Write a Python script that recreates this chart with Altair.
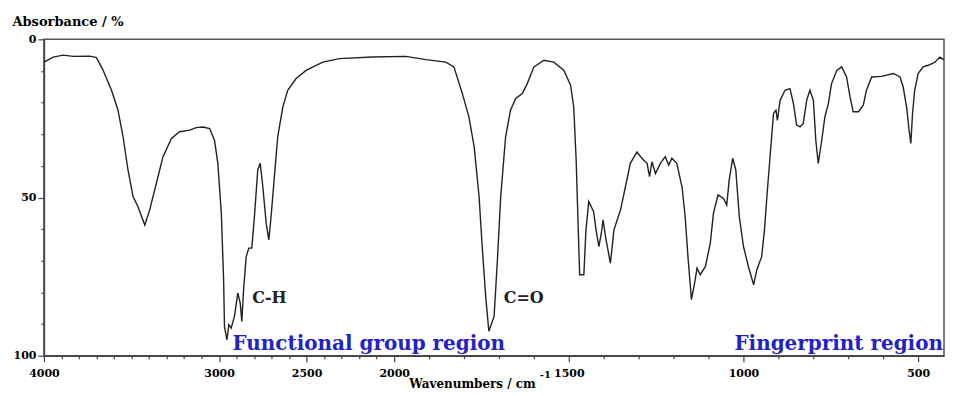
import altair as alt
import pandas as pd

# ---- spectrum ----
wavenumber = [4000, 3947, 3890, 3833, 3738, 3700, 3662, 3614, 3577, 3548, 3520, 3491, 3463, 3424,
              3396, 3358, 3320, 3272, 3225, 3168, 3130, 3092, 3054, 3026, 3007, 2987, 2974, 2969,
              2955, 2944, 2931, 2912, 2893, 2879, 2870, 2860, 2845, 2830, 2813, 2798, 2779, 2765,
              2750, 2731, 2716, 2703, 2684, 2665, 2636, 2608, 2560, 2503, 2408, 2313, 2124, 1967,
              1909, 1852, 1829, 1805, 1786, 1771, 1757, 1748, 1738, 1729, 1714, 1705, 1695, 1681,
              1667, 1652, 1633, 1619, 1600, 1571, 1543, 1514, 1495, 1486, 1479, 1473, 1469, 1457,
              1451, 1443, 1429, 1422, 1414, 1407, 1402, 1395, 1381, 1371, 1352, 1338, 1324, 1305,
              1291, 1276, 1269, 1262, 1252, 1238, 1224, 1214, 1205, 1191, 1176, 1167, 1159, 1149,
              1140, 1133, 1124, 1109, 1095, 1086, 1073, 1057, 1048, 1041, 1031, 1022, 1012, 1000,
              986, 971, 962, 948, 940, 933, 924, 914, 907, 903, 895, 881, 867, 857, 848, 838, 829,
              819, 810, 800, 793, 786, 776, 767, 757, 748, 733, 719, 705, 695, 686, 671, 657, 648,
              633, 605, 571, 552, 543, 533, 526, 521, 516, 510, 500, 486, 471, 452, 438, 424, 405]
absorbance = [7.2, 5.6, 5.0, 5.4, 5.3, 5.8, 9.8, 16.1, 22.4, 30.8, 41.3, 49.7, 52.9, 58.7,
              53.9, 45.5, 37.1, 31.3, 29.2, 28.7, 27.9, 27.7, 28.2, 31.9, 39.2, 55.0, 76.0, 90.8,
              95.0, 90.2, 91.3, 87.6, 80.2, 83.4, 89.2, 79.2, 68.7, 66.0, 66.0, 56.1, 41.3, 39.2,
              46.6, 58.1, 63.4, 56.1, 43.4, 30.8, 21.4, 16.1, 12.4, 9.8, 7.2, 6.1, 5.6, 5.4,
              6.4, 7.2, 8.7, 17.1, 24.5, 34.0, 49.7, 65.5, 81.3, 92.3, 87.6, 70.8, 49.7, 30.8,
              22.4, 18.7, 17.1, 14.0, 8.7, 6.6, 7.2, 9.8, 14.5, 21.4, 38.2, 60.3, 74.4, 74.4,
              60.3, 51.3, 54.5, 60.3, 65.5, 61.3, 57.1, 62.4, 70.8, 60.3, 53.9, 46.6, 39.2, 35.6,
              37.6, 39.2, 43.4, 38.7, 42.4, 39.2, 37.1, 39.7, 37.6, 39.2, 46.6, 56.1, 68.7, 82.3,
              77.1, 72.3, 74.4, 71.8, 64.4, 55.0, 49.2, 50.3, 52.4, 44.5, 37.6, 41.3, 56.1, 65.5,
              71.8, 77.6, 72.9, 68.7, 60.3, 49.7, 37.1, 23.4, 22.4, 25.6, 19.2, 16.1, 15.6, 20.3, 27.1, 27.7, 26.6,
              19.2, 16.1, 19.2, 31.9, 39.2, 31.9, 24.5, 20.3, 14.0, 9.8, 8.7, 11.9, 18.2, 22.9, 22.9, 20.8, 16.1,
              11.9, 11.7, 10.8, 11.9, 15.0, 21.4, 28.7, 32.9, 23.4, 16.1, 10.8, 8.7, 8.2, 7.2, 5.6, 6.6, 6.7]

# ---- annotations ----
peak_text = ["C-H", "C=O"]
peak_wn = [2712, 1629]
peak_abs = [83.3, 83.3]

region_text = ["Functional group region", "Fingerprint region"]
region_wn = [2923, 429]
region_abs = [98.1, 98.1]

# ---- axes ----
x_labeled = [4000, 3000, 2500, 2000, 1500, 1000, 500]
x_ticks = list(range(500, 4001, 100))
y_ticks = list(range(0, 101, 10))

FONT = "DejaVu Serif"
BLUE = "#2222c8"

spec_df = pd.DataFrame({"wn": wavenumber, "abs": absorbance})
peak_df = pd.DataFrame({"wn": peak_wn, "abs": peak_abs, "t": peak_text})
reg_left = pd.DataFrame({"wn": region_wn[:1], "abs": region_abs[:1], "t": region_text[:1]})
reg_right = pd.DataFrame({"wn": region_wn[1:], "abs": region_abs[1:], "t": region_text[1:]})

lab_arr = str(x_labeled)


def X():
    return alt.X(
        "wn:Q",
        scale=alt.Scale(domain=[4000, 2000, 426], range=[0, 351, 902], nice=False, zero=False),
        axis=alt.Axis(
            values=x_ticks,
            labelExpr=f"indexof({lab_arr}, datum.value) >= 0 ? datum.label : ''",
            tickSize={"condition": {"test": f"indexof({lab_arr}, datum.value) >= 0", "value": 6}, "value": 3},
            labelFont=FONT, labelFontWeight="bold", labelFontSize=11, labelColor="#000",
            labelPadding=6, labelOverlap=False, labelFlush=False,
            domainColor="#444", domainWidth=1.5, tickColor="#444", tickWidth=1.2, grid=False,
            title="Wavenumbers / cm", titleFont=FONT, titleFontSize=12, titleFontWeight="bold",
            titleColor="#000", titleX=429, titleY=32, titleAlign="center", titleBaseline="alphabetic",
            format="d",
        ),
    )


def Y():
    return alt.Y(
        "abs:Q",
        scale=alt.Scale(domain=[0, 100], reverse=True, nice=False, zero=False),
        axis=alt.Axis(
            values=y_ticks,
            labelExpr="datum.value % 50 === 0 ? datum.label : ''",
            tickSize={"condition": {"test": "datum.value % 50 === 0", "value": 6}, "value": 3},
            labelFont=FONT, labelFontWeight="bold", labelFontSize=11, labelColor="#000",
            labelPadding=2, labelOverlap=False, labelFlush=False,
            domainColor="#444", domainWidth=1.5, tickColor="#444", tickWidth=1.2, grid=False,
            title="Absorbance / %", titleFont=FONT, titleFontSize=13, titleFontWeight="bold",
            titleColor="#000", titleAngle=0, titleX=-32, titleY=-14, titleAlign="left",
            titleBaseline="alphabetic",
        ),
    )


line = alt.Chart(spec_df).mark_line(color="#222", strokeWidth=1.4, clip=True).encode(
    x=X(), y=Y(), order=alt.Order("wn:Q", sort="descending"),
)

peaks = alt.Chart(peak_df).mark_text(
    font=FONT, fontSize=16, fontWeight="bold", color="#222", align="center", baseline="alphabetic"
).encode(x=X(), y=Y(), text="t:N")

reg1 = alt.Chart(reg_left).mark_text(
    font=FONT, fontSize=20, fontWeight="bold", color=BLUE, align="left", baseline="alphabetic"
).encode(x=X(), y=Y(), text="t:N")

reg2 = alt.Chart(reg_right).mark_text(
    font=FONT, fontSize=20, fontWeight="bold", color=BLUE, align="right", baseline="alphabetic"
).encode(x=X(), y=Y(), text="t:N")

sup = alt.Chart(alt.Data(values=[{"s": "-1"}])).mark_text(
    font=FONT, fontSize=10, fontWeight="bold", color="#000", align="left", baseline="alphabetic"
).encode(x=alt.value(497), y=alt.value(339), text="s:N")

chart = alt.layer(line, peaks, reg1, reg2, sup).properties(
    width=902, height=317,
    autosize=alt.AutoSizeParams(type="none"),
    padding={"left": 36, "top": 31, "right": 2, "bottom": 34},
    background="white",
).configure_view(stroke="#555", strokeWidth=1.5)

chart.save("out.html", embed_options={"renderer": "svg", "actions": False})
